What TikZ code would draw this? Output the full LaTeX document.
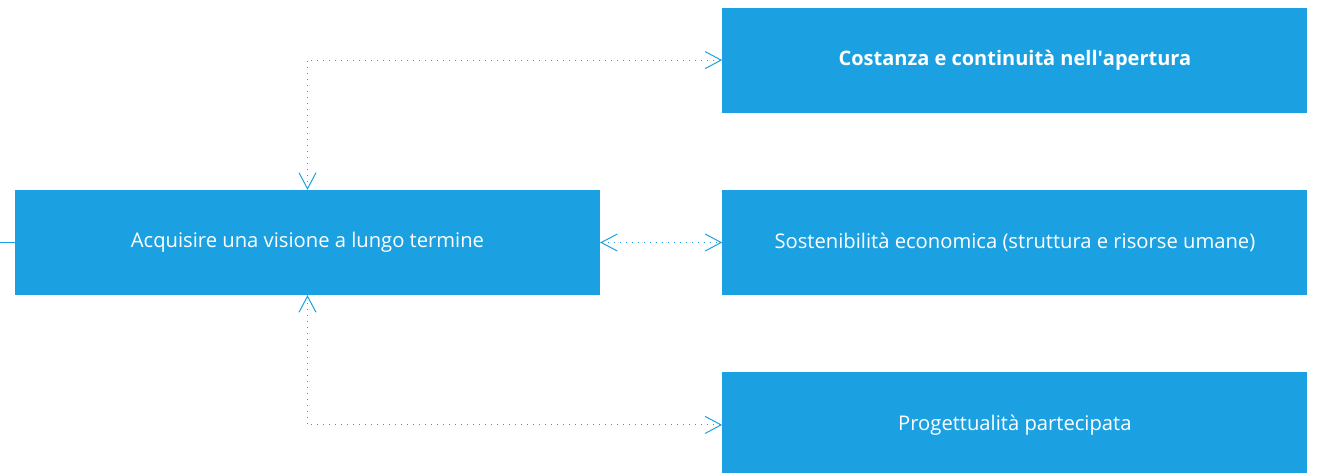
\documentclass[tikz,border=0pt]{standalone}
\usepackage{fontspec}
\setmainfont{Open Sans}
\usetikzlibrary{positioning,arrows.meta}
\definecolor{tileblue}{HTML}{1BA1E2}

\begin{document}
\begin{tikzpicture}[>={Straight Barb[length=16pt,width=17pt]}, x=1pt, y=1pt, node distance=77pt and 122pt]
        \tikzstyle{tile}=[fill=tileblue,text=white,minimum width=585pt,minimum height=105pt,inner sep=0pt,font=\fontsize{20.2}{24}\selectfont]
        \tikzstyle{link}=[<->,draw=tileblue,line width=1pt,dash pattern=on 1pt off 5pt]
        \useasboundingbox (0,0) rectangle (1319,-472);
        \node[tile]    (vision) at (307.5,-242.5) {Acquisire una visione a lungo termine};
        \node[tile]    (econ)[right=of vision]   {Sostenibilità economica (struttura e risorse umane)};
        \node[tile,font=\fontsize{20}{24}\selectfont\bfseries] (cost)[above=of econ] {Costanza e continuità nell\textquotesingle apertura};
        \node[tile]    (prog)[below=of econ]     {Progettualità partecipata};
        \coordinate    (inlet) at (0,-242.5);
        \draw[tileblue,line width=1.5pt] (inlet) -- (vision.west);
        \draw[link] (vision.north) |- (cost.west);
        \draw[link] (vision.east) -- (econ.west);
        \draw[link] (vision.south) |- (prog.west);
    \end{tikzpicture}
\end{document}
